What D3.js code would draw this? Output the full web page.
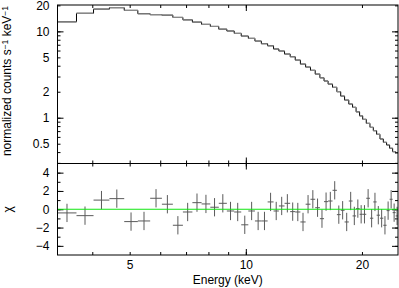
<!DOCTYPE html>
<html>
<head>
<meta charset="utf-8">
<script src="https://cdn.jsdelivr.net/npm/d3@7"></script>
<style>
body { margin: 0; background: #fff; }
svg { display: block; }
text { font-family: "Liberation Sans", Arial, Helvetica, sans-serif; font-size: 12px; fill: #000; }
</style>
</head>
<body>
<svg id="chart" width="399" height="288"></svg>
<script>
// channel bin edges (keV)
var edges = [3.25, 3.64, 4.03, 4.43, 4.84, 5.25, 5.65, 6.06, 6.47, 6.87, 7.27, 7.68, 8.09, 8.51, 8.93,
    9.33, 9.73, 10.15, 10.56, 10.97, 11.39, 11.80, 12.18, 12.60, 13.03, 13.43, 13.85, 14.29, 14.71,
    15.13, 15.56, 15.95, 16.34, 16.78, 17.22, 17.62, 18.03, 18.49, 18.91, 19.31, 19.72, 20.09, 20.52,
    20.98, 21.40, 21.83, 22.27, 22.72, 23.17, 23.59, 24.02, 24.45, 24.88];

// folded model, normalized counts s^-1 keV^-1
var model = [12.9, 16.2, 18.1, 18.8, 17.5, 16.0, 15.6, 15.4, 14.5, 13.6,
    12.8, 12.05, 11.4, 10.6, 10.1, 9.48, 8.82, 8.30, 7.72, 7.19,
    6.81, 6.25, 5.92, 5.46, 5.08, 4.65, 4.18, 3.86, 3.54, 3.20,
    2.90, 2.66, 2.45, 2.25, 2.00, 1.78, 1.60, 1.44, 1.32, 1.17,
    1.05, 0.958, 0.861, 0.774, 0.707, 0.643, 0.567, 0.519, 0.483, 0.443,
    0.404, 0.387];

// residuals (data - model) / error
var chi = [-0.4, -0.7, 1.0, 1.16, -1.35, -1.28, 1.2, 0.55, -1.75, -0.3,
    0.72, 0.58, 0.22, 0.65, -0.19, -0.3, -1.7, -0.19, -1.28, -1.28,
    0.8, -0.19, 0.36, 0.65, -0.26, -0.3, -1.39, 0.55, 1.09, 0.17,
    -1.03, 0.83, 0.9, 2.07, -0.59, -0.11, -1.39, 0.9, -0.73, 0.07,
    -0.55, -0.55, 1.2, -0.98, 0.8, -0.65, -0.98, -1.75, -0.15, 1.09,
    -0.37, -0.73];
var chiErr = 1;

var xTicks = [4, 5, 6, 7, 8, 9, 10, 20];
var xMajor = [10];
var xLabels = [5, 10, 20];
var yTicks = [0.3, 0.4, 0.5, 0.6, 0.7, 0.8, 0.9, 1, 2, 3, 4, 5, 6, 7, 8, 9, 10, 20];
var yMajor = [1, 10];
var yLabels = [0.5, 1, 2, 5, 10, 20];
var chiTicks = [-4, -3, -2, -1, 0, 1, 2, 3, 4];
var chiMajor = [-4, -2, 0, 2, 4];

var box = {l: 57.5, r: 398, t: 5, mid: 163.5, b: 255};

var svg = d3.select("#chart");

var x = d3.scaleLog().domain([3.25, 24.8]).range([box.l, box.r]);
var y = d3.scaleLog().domain([0.295, 20.2]).range([box.mid, box.t]);
var yc = d3.scaleLinear().domain([-5, 5]).range([box.b, box.mid]);

var bins = model.map(function(m, i) {
    return {e0: edges[i], e1: edges[i + 1], m: m, chi: chi[i]};
});

svg.append("clipPath").attr("id", "clipTop")
    .append("rect").attr("x", box.l).attr("y", box.t).attr("width", box.r - box.l).attr("height", box.mid - box.t);
svg.append("clipPath").attr("id", "clipBot")
    .append("rect").attr("x", box.l).attr("y", box.mid).attr("width", box.r - box.l).attr("height", box.b - box.mid);

// ticks: inward on all four sides of each panel
function ticks(gen, tx, ty, vals, size) {
    svg.append("g")
        .attr("transform", "translate(" + tx + "," + ty + ")")
        .attr("color", "#000")
        .call(gen.tickValues(vals).tickSize(-size).tickFormat(""))
        .call(function(g) { g.select(".domain").remove(); });
}

function labels(gen, tx, ty, vals, pad, fmt) {
    svg.append("g")
        .attr("transform", "translate(" + tx + "," + ty + ")")
        .attr("font-family", null).attr("font-size", null)
        .call(gen.tickValues(vals).tickSize(0).tickPadding(pad).tickFormat(fmt))
        .call(function(g) { g.select(".domain").remove(); g.selectAll("line").remove(); });
}

[[box.t, d3.axisTop], [box.mid, d3.axisBottom], [box.mid, d3.axisTop], [box.b, d3.axisBottom]].forEach(function(p) {
    ticks(p[1](x), 0, p[0], xTicks, 3);
    ticks(p[1](x), 0, p[0], xMajor, 6);
});
ticks(d3.axisLeft(y), box.l, 0, yTicks, 3);
ticks(d3.axisLeft(y), box.l, 0, yMajor, 6);
ticks(d3.axisRight(y), box.r, 0, yTicks, 3);
ticks(d3.axisRight(y), box.r, 0, yMajor, 6);
ticks(d3.axisLeft(yc), box.l, 0, chiTicks, 3);
ticks(d3.axisLeft(yc), box.l, 0, chiMajor, 6);
ticks(d3.axisRight(yc), box.r, 0, chiTicks, 3);
ticks(d3.axisRight(yc), box.r, 0, chiMajor, 6);

labels(d3.axisLeft(y), box.l, 0, yLabels, 8, d3.format("~g"));
labels(d3.axisLeft(yc), box.l, 0, chiMajor, 8, function(d) { return d < 0 ? "\u2212" + (-d) : d; });
labels(d3.axisBottom(x), 0, box.b, xLabels, 5, d3.format("~g"));

// top panel: model step and data
var step = d3.line()
    .x(function(d) { return x(d[0]); })
    .y(function(d) { return y(d[1]); })
    .curve(d3.curveStepAfter);
var stepPts = bins.map(function(b) { return [b.e0, b.m]; });
stepPts.push([edges[edges.length - 1], model[model.length - 1]]);

var topG = svg.append("g").attr("clip-path", "url(#clipTop)");
topG.append("path")
    .attr("d", step(stepPts))
    .attr("fill", "none")
    .attr("stroke", "#000")
    .attr("stroke-width", 1);
topG.selectAll("line.dat").data(bins).enter().append("line")
    .attr("x1", function(d) { return x(d.e0); })
    .attr("x2", function(d) { return x(d.e1); })
    .attr("y1", function(d) { return y(d.m); })
    .attr("y2", function(d) { return y(d.m); })
    .attr("stroke", "#888")
    .attr("stroke-width", 1.2);

// bottom panel: residual crosses and zero line
var botG = svg.append("g").attr("clip-path", "url(#clipBot)");
var cross = botG.selectAll("g.res").data(bins).enter().append("g").attr("stroke", "#5a5a5a").attr("stroke-width", 1);
cross.append("line")
    .attr("x1", function(d) { return x(d.e0); })
    .attr("x2", function(d) { return x(d.e1); })
    .attr("y1", function(d) { return yc(d.chi); })
    .attr("y2", function(d) { return yc(d.chi); });
cross.append("line")
    .attr("x1", function(d) { return x(Math.sqrt(d.e0 * d.e1)); })
    .attr("x2", function(d) { return x(Math.sqrt(d.e0 * d.e1)); })
    .attr("y1", function(d) { return yc(d.chi - chiErr); })
    .attr("y2", function(d) { return yc(d.chi + chiErr); });
botG.append("line")
    .attr("x1", box.l).attr("x2", box.r)
    .attr("y1", yc(0)).attr("y2", yc(0))
    .attr("stroke", "#11e611")
    .attr("stroke-width", 1);

// frames
svg.append("rect")
    .attr("x", box.l).attr("y", box.t)
    .attr("width", box.r - box.l).attr("height", box.b - box.t)
    .attr("fill", "none").attr("stroke", "#000");
svg.append("line")
    .attr("x1", box.l).attr("x2", box.r)
    .attr("y1", box.mid).attr("y2", box.mid)
    .attr("stroke", "#000");

// axis titles
var yt = svg.append("text")
    .attr("transform", "translate(11,81) rotate(-90)")
    .attr("text-anchor", "middle");
yt.append("tspan").text("normalized counts s");
yt.append("tspan").attr("font-size", "8.5px").attr("dy", -3.5).text("\u22121");
yt.append("tspan").attr("dy", 3.5).text(" keV");
yt.append("tspan").attr("font-size", "8.5px").attr("dy", -3.5).text("\u22121");

svg.append("text")
    .attr("transform", "translate(12," + yc(0) + ") rotate(-90)")
    .attr("text-anchor", "middle")
    .text("\u03c7");

svg.append("text")
    .attr("x", (box.l + box.r) / 2)
    .attr("y", 284)
    .attr("text-anchor", "middle")
    .text("Energy (keV)");
</script>
</body>
</html>
